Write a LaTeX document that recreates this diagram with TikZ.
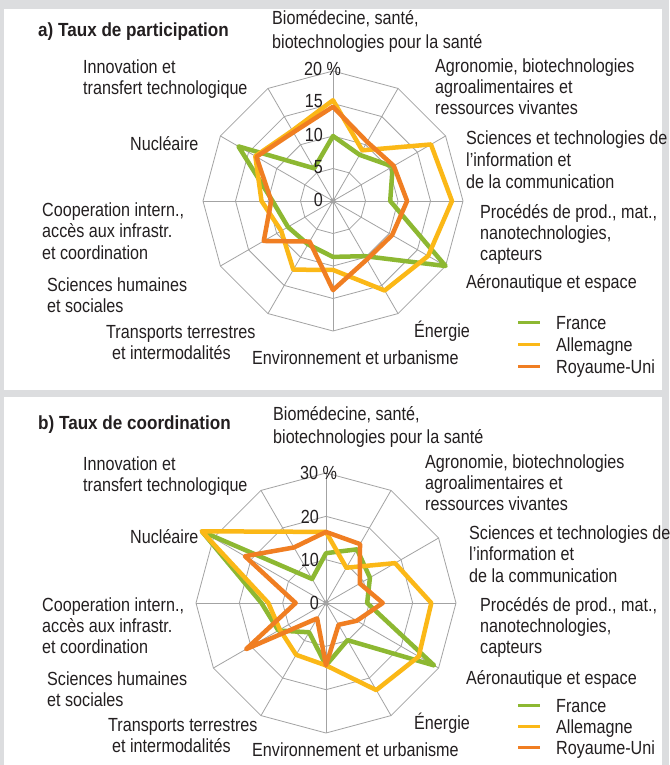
\documentclass[tikz,border=0pt]{standalone}
\usepackage{fontspec}
\setmainfont{Liberation Sans}[FakeStretch=0.85]
\newfontfamily\ttlfont{Liberation Sans}[FakeStretch=0.9]
\definecolor{cfr}{HTML}{8DB832}
\definecolor{cde}{HTML}{FBB817}
\definecolor{cuk}{HTML}{F07E22}
\definecolor{bggray}{HTML}{DCDDDF}
\definecolor{gridc}{HTML}{A3A3A3}
\definecolor{txt}{HTML}{231F20}
\tikzset{
  gridline/.style={draw=gridc, line width=0.8pt, line join=miter},
  series/.style={line width=4.5pt, line join=round, line cap=round},
  lbl/.style={anchor=base west, inner sep=0pt, font=\fontsize{19}{22}\selectfont, text=txt},
  tick/.style={anchor=base east, inner sep=0pt, font=\fontsize{19}{22}\selectfont, text=txt},
  ttl/.style={anchor=base west, inner sep=0pt, font=\fontsize{19}{22}\ttlfont\bfseries, text=txt},
  legline/.style={line width=3pt}
}
\newcommand\radargrid[3]{%
  \foreach \k in {1,...,#3}{
    \draw[gridline] ([shift={(#1)}]-90:{#2*\k/#3}) \foreach \j in {1,...,11}{ -- ([shift={(#1)}]{30*\j-90}:{#2*\k/#3}) } -- cycle;
  }
  \foreach \j in {0,...,11}{ \draw[gridline] (#1) -- ([shift={(#1)}]{30*\j-90}:#2); }
  \fill[gridc] (#1) circle (2.6);
}
\newcommand\radarpoly[4]{%
  \foreach \v [count=\i from 0] in {#4} { \coordinate (rp\i) at ([shift={(#1)}]{30*\i-90}:{\v*#2}); }
  \draw[series,#3] (rp0) -- (rp1) -- (rp2) -- (rp3) -- (rp4) -- (rp5) -- (rp6) -- (rp7) -- (rp8) -- (rp9) -- (rp10) -- (rp11) -- cycle;
}
\begin{document}
\begin{tikzpicture}[x=1pt,y=-1pt]
\useasboundingbox (0,0) rectangle (669,765);
\fill[bggray] (0,0) rectangle (669,765);
\fill[white] (4,9) rectangle (662,390);
\fill[white] (4,397) rectangle (662,765);

% ---------- panel a ----------
\coordinate (ca) at (333,201);
\radargrid{ca}{130}{4}
\radarpoly{ca}{6.5}{cfr}{10,8.2,10.6,8.8,20,9.8,8.6,7.7,8.0,9.3,16.8,5.8}
\radarpoly{ca}{6.5}{cde}{15.5,9.0,17.4,18.3,16.9,15.9,10.6,12.2,9.2,11,13.8,12.5}
\radarpoly{ca}{6.5}{cuk}{14.5,10.5,10.8,11.4,10.5,10.4,13.7,7.2,12.3,9.5,13.6,12.2}

\node[ttl] (ta) at (38,37) {a) Taux de participation};
\node[lbl] (a20) at (304,76) {20 \%};
\node[tick] (a15) at (323,108) {15};
\node[tick] (a10) at (323,141) {10};
\node[tick] (a5) at (323,173) {5};
\node[tick] (a0) at (323,206) {0};

\node[lbl] (a1a) at (272,25) {Biomédecine, santé,};
\node[lbl] (a1b) at (272,49) {biotechnologies pour la santé};
\node[lbl] (a2a) at (435,73) {Agronomie, biotechnologies};
\node[lbl] (a2b) at (435,94) {agroalimentaires et};
\node[lbl] (a2c) at (435,115) {ressources vivantes};
\node[lbl] (a3a) at (466,144) {Sciences et technologies de};
\node[lbl] (a3b) at (466,166) {l'information et};
\node[lbl] (a3c) at (466,188) {de la communication};
\node[lbl] (a4a) at (480,218) {Procédés de prod., mat.,};
\node[lbl] (a4b) at (480,239) {nanotechnologies,};
\node[lbl] (a4c) at (480,260) {capteurs};
\node[lbl] (a5a) at (466,288) {Aéronautique et espace};
\node[lbl] (a6a) at (414,337) {Énergie};
\node[lbl] (a7a) at (252,364) {Environnement et urbanisme};
\node[lbl] (a8a) at (106,338) {Transports terrestres};
\node[lbl] (a8b) at (112,359) {et intermodalités};
\node[lbl] (a9a) at (47,291) {Sciences humaines};
\node[lbl] (a9b) at (47,312) {et sociales};
\node[lbl] (a10a) at (42,216) {Cooperation intern.,};
\node[lbl] (a10b) at (42,237) {accès aux infrastr.};
\node[lbl] (a10c) at (42,259) {et coordination};
\node[lbl] (a11a) at (130,150) {Nucléaire};
\node[lbl] (a12a) at (83,74) {Innovation et};
\node[lbl] (a12b) at (83,95) {transfert technologique};

\draw[legline,cfr] (518,322) -- (540,322);
\draw[legline,cde] (518,344) -- (540,344);
\draw[legline,cuk] (518,366) -- (540,366);
\node[lbl] (alf) at (556,329) {France};
\node[lbl] (ald) at (556,351) {Allemagne};
\node[lbl] (alu) at (556,373) {Royaume-Uni};

% ---------- panel b ----------
\coordinate (cb) at (326,603);
\radargrid{cb}{130}{3}
\radarpoly{cb}{4.3333}{cfr}{11.5,14.3,11.7,9.5,28.8,9.9,14.4,7.8,12.7,14.9,33.1,6.4}
\radarpoly{cb}{4.3333}{cde}{16.4,9.4,18.4,24.3,24.7,23.2,14.4,13.8,12.3,13.3,33.1,19}
\radarpoly{cb}{4.3333}{cuk}{16.4,15.7,9.0,13.1,8.2,5.8,14.4,4.1,21.3,7.0,21.6,14.8}

\node[ttl] (tb) at (38,429) {b) Taux de coordination};
\node[lbl] (b30) at (300,479) {30 \%};
\node[tick] (b20) at (319,523) {20};
\node[tick] (b10) at (319,566) {10};
\node[tick] (b0) at (319,609) {0};

\node[lbl] (b1a) at (273,420) {Biomédecine, santé,};
\node[lbl] (b1b) at (273,443) {biotechnologies pour la santé};
\node[lbl] (b2a) at (425,468) {Agronomie, biotechnologies};
\node[lbl] (b2b) at (425,489) {agroalimentaires et};
\node[lbl] (b2c) at (425,510) {ressources vivantes};
\node[lbl] (b3a) at (469,539) {Sciences et technologies de};
\node[lbl] (b3b) at (469,560) {l'information et};
\node[lbl] (b3c) at (469,582) {de la communication};
\node[lbl] (b4a) at (480,611) {Procédés de prod., mat.,};
\node[lbl] (b4b) at (480,632) {nanotechnologies,};
\node[lbl] (b4c) at (480,653) {capteurs};
\node[lbl] (b5a) at (466,684) {Aéronautique et espace};
\node[lbl] (b6a) at (414,729) {Énergie};
\node[lbl] (b7a) at (252,756) {Environnement et urbanisme};
\node[lbl] (b8a) at (108,731) {Transports terrestres};
\node[lbl] (b8b) at (112,752) {et intermodalités};
\node[lbl] (b9a) at (47,685) {Sciences humaines};
\node[lbl] (b9b) at (47,706) {et sociales};
\node[lbl] (b10a) at (42,611) {Cooperation intern.,};
\node[lbl] (b10b) at (42,632) {accès aux infrastr.};
\node[lbl] (b10c) at (42,653) {et coordination};
\node[lbl] (b11a) at (130,543) {Nucléaire};
\node[lbl] (b12a) at (83,470) {Innovation et};
\node[lbl] (b12b) at (83,491) {transfert technologique};

\draw[legline,cfr] (518,705) -- (540,705);
\draw[legline,cde] (518,726) -- (540,726);
\draw[legline,cuk] (518,747) -- (540,747);
\node[lbl] (blf) at (556,712) {France};
\node[lbl] (bld) at (556,733) {Allemagne};
\node[lbl] (blu) at (556,754) {Royaume-Uni};
\end{tikzpicture}
\end{document}
